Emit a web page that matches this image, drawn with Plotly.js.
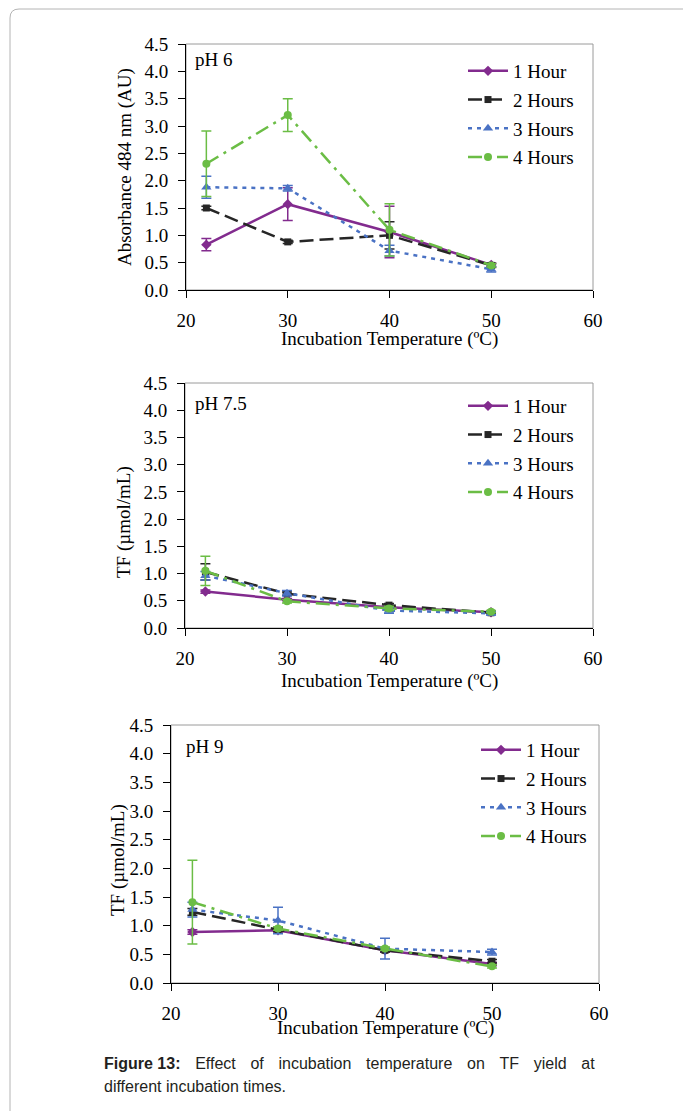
<!DOCTYPE html>
<html>
<head>
<meta charset="utf-8">
<script src="https://cdn.plot.ly/plotly-3.0.1.min.js"></script>
<style>
html,body{margin:0;padding:0;background:#fff;}
#chart{width:683px;height:1111px;}
</style>
</head>
<body>
<div id="chart"></div>
<script>
// ---- data ----
const temps = [22, 30, 40, 50];
const seriesNames = ['1 Hour', '2 Hours', '3 Hours', '4 Hours'];
const xTicks = [20, 30, 40, 50, 60];
const yTicks = [0, 0.5, 1, 1.5, 2, 2.5, 3, 3.5, 4, 4.5];

// pH 6
const ph6_h1 = [0.83, 1.57, 1.06, 0.46];
const ph6_h1_err = [0.11, 0.30, 0.47, 0.03];
const ph6_h2 = [1.50, 0.88, 1.00, 0.45];
const ph6_h2_err = [0.03, 0.03, 0.25, 0.04];
const ph6_h3 = [1.88, 1.86, 0.72, 0.38];
const ph6_h3_err = [0.20, 0.05, 0.10, 0.05];
const ph6_h4 = [2.31, 3.20, 1.10, 0.45];
const ph6_h4_err = [0.60, 0.30, 0.48, 0.03];

// pH 7.5
const ph75_h1 = [0.67, 0.52, 0.38, 0.29];
const ph75_h1_err = [0.03, 0.02, 0.02, 0.02];
const ph75_h2 = [1.03, 0.63, 0.42, 0.28];
const ph75_h2_err = [0.15, 0.03, 0.03, 0.02];
const ph75_h3 = [0.96, 0.64, 0.32, 0.27];
const ph75_h3_err = [0.08, 0.05, 0.05, 0.03];
const ph75_h4 = [1.05, 0.49, 0.36, 0.30];
const ph75_h4_err = [0.27, 0.03, 0.04, 0.02];

// pH 9
const ph9_h1 = [0.89, 0.92, 0.57, 0.33];
const ph9_h1_err = [0.04, 0.03, 0.03, 0.03];
const ph9_h2 = [1.24, 0.93, 0.57, 0.38];
const ph9_h2_err = [0.06, 0.03, 0.03, 0.03];
const ph9_h3 = [1.28, 1.09, 0.60, 0.54];
const ph9_h3_err = [0.13, 0.23, 0.18, 0.05];
const ph9_h4 = [1.41, 0.95, 0.60, 0.29];
const ph9_h4_err = [0.73, 0.03, 0.03, 0.03];

const panelLabels = ['pH 6', 'pH 7.5', 'pH 9'];
const yTitles = ['Absorbance 484 nm (AU)', 'TF (µmol/mL)', 'TF (µmol/mL)'];
const xTitle = 'Incubation Temperature (ºC)';
const captionBold = 'Figure 13:';
const captionLine1 = 'Effect of incubation temperature on TF yield at';
const captionLine2 = 'different incubation times.';

// ---- styles ----
const W = 683, H = 1111;
const px = v => v / W;
const py = v => 1 - v / H;
const SERIF = 'Liberation Serif, Times New Roman, serif';
const FS = 19;
const styles = [
  {color: '#822B8E', dash: 'solid', symbol: 'diamond', size: 8},
  {color: '#262626', dash: '14px,6px', symbol: 'square', size: 7},
  {color: '#4A72C4', dash: '4px,5px', symbol: 'triangle-up', size: 9},
  {color: '#6BBD45', dash: '14px,6px,3px,6px', symbol: 'circle', size: 8}
];

const panels = [
  {vals: [ph6_h1, ph6_h2, ph6_h3, ph6_h4], errs: [ph6_h1_err, ph6_h2_err, ph6_h3_err, ph6_h4_err],
   box: {l: 186, r: 593, t: 44, b: 290}, legend: {x: 463, y: 52}, label: {x: 193, y: 60},
   ytitle: {x: 125, y: 167}, xtitle: {x: 389, y: 339}},
  {vals: [ph75_h1, ph75_h2, ph75_h3, ph75_h4], errs: [ph75_h1_err, ph75_h2_err, ph75_h3_err, ph75_h4_err],
   box: {l: 185, r: 593, t: 383, b: 628}, legend: {x: 463, y: 387}, label: {x: 193, y: 403},
   ytitle: {x: 124, y: 522}, xtitle: {x: 389, y: 681}},
  {vals: [ph9_h1, ph9_h2, ph9_h3, ph9_h4], errs: [ph9_h1_err, ph9_h2_err, ph9_h3_err, ph9_h4_err],
   box: {l: 171, r: 599, t: 725, b: 983}, legend: {x: 476, y: 731}, label: {x: 184, y: 746},
   ytitle: {x: 118, y: 860}, xtitle: {x: 385, y: 1028}}
];

const traces = [];
const layout = {
  width: W, height: H,
  margin: {l: 0, r: 0, t: 0, b: 0},
  paper_bgcolor: '#fff', plot_bgcolor: 'rgba(0,0,0,0)',
  font: {family: SERIF, size: FS, color: '#000'},
  showlegend: true,
  shapes: [], annotations: []
};

panels.forEach((p, i) => {
  const n = i === 0 ? '' : String(i + 1);
  const xa = 'x' + n, ya = 'y' + n;
  const legName = 'legend' + n;
  p.vals.forEach((v, k) => {
    const s = styles[k];
    traces.push({
      type: 'scatter', mode: 'lines+markers',
      x: temps, y: v, name: seriesNames[k],
      xaxis: xa, yaxis: ya, legend: legName, legendgroup: 'p' + i + 's' + k,
      line: {color: s.color, width: 2.5, dash: s.dash},
      marker: {color: s.color, symbol: s.symbol, size: s.size},
      error_y: {type: 'data', array: p.errs[k], visible: true, color: s.color, thickness: 1.5, width: 5},
      cliponaxis: false
    });
  });
  const axCommon = {
    showgrid: false, zeroline: false, showline: true, linecolor: '#000', linewidth: 1,
    ticks: 'outside', ticklen: 7, tickcolor: '#000', tickwidth: 1,
    tickfont: {family: SERIF, size: FS, color: '#000'}, fixedrange: true
  };
  layout['xaxis' + n] = Object.assign({}, axCommon, {
    domain: [px(p.box.l), px(p.box.r)], anchor: ya,
    range: [20, 60], tickmode: 'array', tickvals: xTicks, ticktext: xTicks.map(String),
    ticklabelstandoff: 6
  });
  layout['yaxis' + n] = Object.assign({}, axCommon, {
    domain: [py(p.box.b), py(p.box.t)], anchor: xa,
    range: [0, 4.5], tickmode: 'array', tickvals: yTicks, ticktext: yTicks.map(v => v.toFixed(1)),
    ticklabelstandoff: 6
  });
  layout[legName] = {
    x: px(p.legend.x), y: py(p.legend.y), xanchor: 'left', yanchor: 'top',
    bgcolor: 'rgba(0,0,0,0)', borderwidth: 0,
    font: {family: SERIF, size: FS, color: '#000'},
    traceorder: 'grouped', tracegroupgap: 1, itemwidth: 40
  };
  // gray frame (top/right)
  layout.shapes.push({
    type: 'rect', xref: xa + ' domain', yref: ya + ' domain', x0: 0, x1: 1, y0: 0, y1: 1,
    line: {color: '#9a9a9a', width: 1}, layer: 'below'
  });
  layout.annotations.push(
    {text: panelLabels[i], xref: 'paper', yref: 'paper', x: px(p.label.x), y: py(p.label.y),
     xanchor: 'left', yanchor: 'middle', showarrow: false, font: {family: SERIF, size: FS, color: '#000'}},
    {text: yTitles[i], xref: 'paper', yref: 'paper', x: px(p.ytitle.x), y: py(p.ytitle.y),
     xanchor: 'center', yanchor: 'middle', textangle: -90, showarrow: false, font: {family: SERIF, size: FS, color: '#000'}},
    {text: xTitle, xref: 'paper', yref: 'paper', x: px(p.xtitle.x), y: py(p.xtitle.y),
     xanchor: 'center', yanchor: 'middle', showarrow: false, font: {family: SERIF, size: FS, color: '#000'}}
  );
});

// caption (justified first line: widen word gaps)
const CAP = 'Liberation Sans, Arial, sans-serif';
const GAP = ' &nbsp;&nbsp;&#8202;';
const wide = s => s.split(' ').join(GAP);
layout.annotations.push(
  {text: '<b>' + captionBold + '</b>' + GAP + wide(captionLine1), xref: 'paper', yref: 'paper', x: px(102), y: py(1063),
   xanchor: 'left', yanchor: 'middle', showarrow: false, align: 'left', font: {family: CAP, size: 16, color: '#231f20'}},
  {text: captionLine2, xref: 'paper', yref: 'paper', x: px(102), y: py(1086),
   xanchor: 'left', yanchor: 'middle', showarrow: false, align: 'left', font: {family: CAP, size: 16, color: '#231f20'}}
);

// outer rounded border
layout.shapes.push({
  type: 'path', xref: 'paper', yref: 'paper',
  path: `M ${px(10)},${py(1130)} L ${px(10)},${py(18)} Q ${px(10)},${py(9)} ${px(19)},${py(9)} L ${px(700)},${py(9)}`,
  line: {color: '#b4b4b4', width: 1}, layer: 'below'
});

Plotly.newPlot('chart', traces, layout, {displayModeBar: false, staticPlot: true});
</script>
</body>
</html>
